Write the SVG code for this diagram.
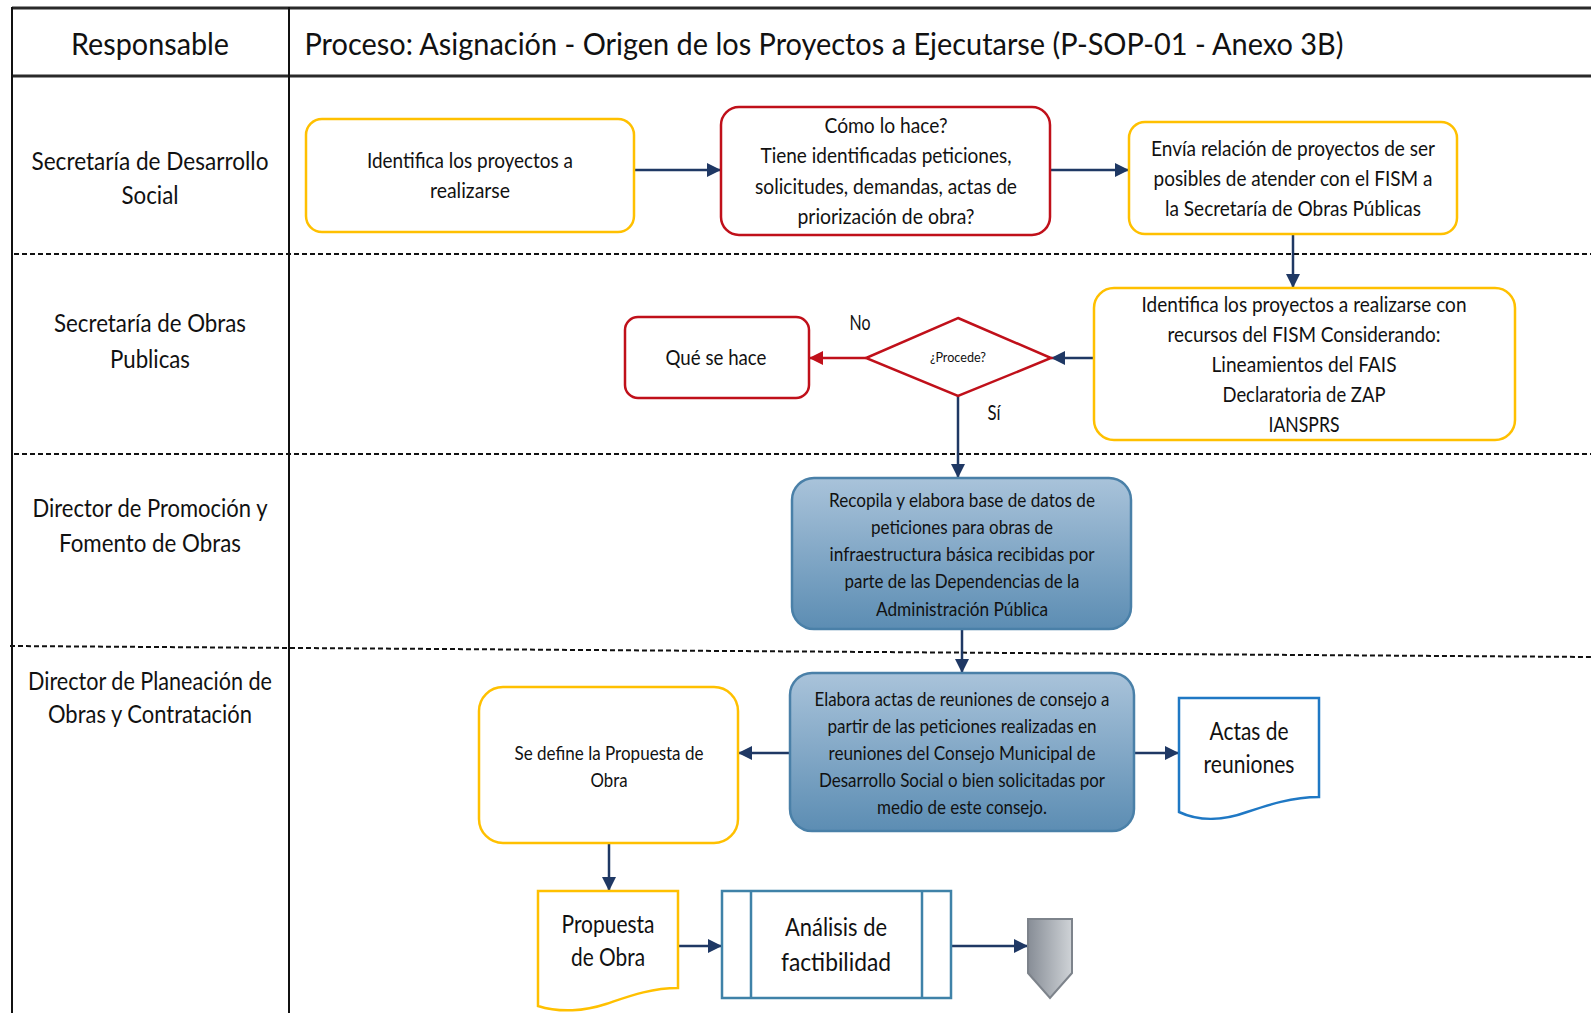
<svg xmlns="http://www.w3.org/2000/svg" width="1591" height="1013" viewBox="0 0 1591 1013">
  <style>
    text { font-family: "Lato", "Liberation Sans", sans-serif; fill: #111; text-anchor: middle; }
    .hdr { font-size: 31px; }
    .lane { font-size: 25px; }
    .t21 { font-size: 21px; }
    .t19 { font-size: 19px; }
    .t24 { font-size: 25px; }
    .small { font-size: 13px; }
    .frame { stroke: #111; stroke-width: 2; fill: none; }
    .hline { stroke: #2a2a2a; stroke-width: 3; fill: none; }
    .dash { stroke: #111; stroke-width: 2; stroke-dasharray: 5 3; fill: none; }
    .yel { fill: #fff; stroke: #FFC000; stroke-width: 2.5; }
    .red { fill: #fff; stroke: #C0101A; stroke-width: 2.5; }
    .blu { fill: url(#blueGrad); stroke: #4a80a8; stroke-width: 2.5; }
    .doc { fill: #fff; stroke: #1f78c4; stroke-width: 2.5; }
    .pre { fill: #fff; stroke: #3f82a8; stroke-width: 2.5; }
    .conn { stroke: #1f3864; stroke-width: 2.5; fill: none; marker-end: url(#arrowNavy); }
    .connRed { stroke: #C0101A; stroke-width: 2.5; fill: none; marker-end: url(#arrowRed); }
  </style>
  <defs>
    <linearGradient id="blueGrad" x1="0" y1="0" x2="0" y2="1">
      <stop offset="0" stop-color="#a9c3da"/>
      <stop offset="1" stop-color="#5c8db3"/>
    </linearGradient>
    <linearGradient id="grayGrad" x1="0" y1="0" x2="1" y2="0">
      <stop offset="0" stop-color="#878d96"/>
      <stop offset="1" stop-color="#cfd3d7"/>
    </linearGradient>
    <marker id="arrowNavy" viewBox="0 0 10 10" refX="10" refY="5" markerWidth="14" markerHeight="14" markerUnits="userSpaceOnUse" orient="auto">
      <path d="M0,0 L10,5 L0,10 z" fill="#1f3864"/>
    </marker>
    <marker id="arrowRed" viewBox="0 0 10 10" refX="10" refY="5" markerWidth="14" markerHeight="14" markerUnits="userSpaceOnUse" orient="auto">
      <path d="M0,0 L10,5 L0,10 z" fill="#C0101A"/>
    </marker>
  </defs>

  <rect width="1591" height="1013" fill="#fff"/>

  <!-- table frame -->
  <g id="frame">
    <line class="hline" x1="12" y1="8" x2="1591" y2="8"/>
    <line class="hline" x1="12" y1="76" x2="1591" y2="76"/>
    <line class="frame" x1="12" y1="7" x2="12" y2="1013"/>
    <line class="frame" x1="289" y1="7" x2="289" y2="1013"/>
    <line class="dash" x1="14" y1="254" x2="1591" y2="254"/>
    <line class="dash" x1="14" y1="454" x2="1591" y2="454"/>
    <line class="dash" x1="10" y1="646" x2="1591" y2="657"/>
    <text class="hdr" x="150" y="55" textLength="158" lengthAdjust="spacingAndGlyphs">Responsable</text>
    <text class="hdr" x="824" y="55" textLength="1039" lengthAdjust="spacingAndGlyphs">Proceso: Asignación - Origen de los Proyectos a Ejecutarse (P-SOP-01 - Anexo 3B)</text>
  </g>

  <!-- lane labels -->
  <g id="lane-labels">
    <text class="lane" x="150" y="170" textLength="237" lengthAdjust="spacingAndGlyphs">Secretaría de Desarrollo</text>
    <text class="lane" x="150" y="204" textLength="57" lengthAdjust="spacingAndGlyphs">Social</text>
    <text class="lane" x="150" y="332" textLength="192" lengthAdjust="spacingAndGlyphs">Secretaría de Obras</text>
    <text class="lane" x="150" y="368" textLength="80" lengthAdjust="spacingAndGlyphs">Publicas</text>
    <text class="lane" x="150" y="517" textLength="235" lengthAdjust="spacingAndGlyphs">Director de Promoción y</text>
    <text class="lane" x="150" y="552" textLength="182" lengthAdjust="spacingAndGlyphs">Fomento de Obras</text>
    <text class="lane" x="150" y="690" textLength="244" lengthAdjust="spacingAndGlyphs">Director de Planeación de</text>
    <text class="lane" x="150" y="723" textLength="204" lengthAdjust="spacingAndGlyphs">Obras y Contratación</text>
  </g>

  <!-- connectors -->
  <g id="connectors">
    <path class="conn" d="M634,170 H721"/>
    <path class="conn" d="M1050,170 H1129"/>
    <path class="conn" d="M1293,234 V288"/>
    <path class="conn" d="M1094,358 H1051"/>
    <path class="connRed" d="M866,358 H809"/>
    <path class="conn" d="M958,396 V478"/>
    <path class="conn" d="M962,629 V673"/>
    <path class="conn" d="M790,753 H738"/>
    <path class="conn" d="M1134,753 H1179"/>
    <path class="conn" d="M609,843 V891"/>
    <path class="conn" d="M678,946 H722"/>
    <path class="conn" d="M951,946 H1028"/>
    <text class="t21" x="860" y="330" textLength="21" lengthAdjust="spacingAndGlyphs">No</text>
    <text class="t21" x="994" y="420" textLength="13" lengthAdjust="spacingAndGlyphs">Sí</text>
  </g>

  <g id="identifica">
    <rect class="yel" x="306" y="119" width="328" height="113" rx="16"/>
    <text class="t21" x="470" y="168" textLength="206" lengthAdjust="spacingAndGlyphs">Identifica los proyectos a</text>
    <text class="t21" x="470" y="198" textLength="80" lengthAdjust="spacingAndGlyphs">realizarse</text>
  </g>

  <g id="como-lo-hace">
    <rect class="red" x="721" y="107" width="329" height="128" rx="18"/>
    <text class="t21" x="886" y="133" textLength="123" lengthAdjust="spacingAndGlyphs">Cómo lo hace?</text>
    <text class="t21" x="886" y="163" textLength="251" lengthAdjust="spacingAndGlyphs">Tiene identificadas peticiones,</text>
    <text class="t21" x="886" y="194" textLength="262" lengthAdjust="spacingAndGlyphs">solicitudes, demandas, actas de</text>
    <text class="t21" x="886" y="224" textLength="177" lengthAdjust="spacingAndGlyphs">priorización de obra?</text>
  </g>

  <g id="envia-relacion">
    <rect class="yel" x="1129" y="122" width="328" height="112" rx="16"/>
    <text class="t21" x="1293" y="156" textLength="284" lengthAdjust="spacingAndGlyphs">Envía relación de proyectos de ser</text>
    <text class="t21" x="1293" y="186" textLength="279" lengthAdjust="spacingAndGlyphs">posibles de atender con el FISM a</text>
    <text class="t21" x="1293" y="216" textLength="256" lengthAdjust="spacingAndGlyphs">la Secretaría de Obras Públicas</text>
  </g>

  <g id="identifica-fism">
    <rect class="yel" x="1094" y="288" width="421" height="152" rx="20"/>
    <text class="t21" x="1304" y="312" textLength="325" lengthAdjust="spacingAndGlyphs">Identifica los proyectos a realizarse con</text>
    <text class="t21" x="1304" y="342" textLength="273" lengthAdjust="spacingAndGlyphs">recursos del FISM Considerando:</text>
    <text class="t21" x="1304" y="372" textLength="185" lengthAdjust="spacingAndGlyphs">Lineamientos del FAIS</text>
    <text class="t21" x="1304" y="402" textLength="163" lengthAdjust="spacingAndGlyphs">Declaratoria de ZAP</text>
    <text class="t21" x="1304" y="432" textLength="71" lengthAdjust="spacingAndGlyphs">IANSPRS</text>
  </g>

  <g id="procede">
    <polygon class="red" points="958,318 1051,358 958,396 866,358"/>
    <text class="small" x="958" y="362" textLength="56" lengthAdjust="spacingAndGlyphs">¿Procede?</text>
  </g>

  <g id="que-se-hace">
    <rect class="red" x="625" y="317" width="184" height="81" rx="13"/>
    <text class="t21" x="716" y="365" textLength="101" lengthAdjust="spacingAndGlyphs">Qué se hace</text>
  </g>

  <g id="recopila">
    <rect class="blu" x="792" y="478" width="339" height="151" rx="22"/>
    <text class="t19" x="962" y="507" textLength="266" lengthAdjust="spacingAndGlyphs">Recopila y elabora base de datos de</text>
    <text class="t19" x="962" y="534" textLength="182" lengthAdjust="spacingAndGlyphs">peticiones para obras de</text>
    <text class="t19" x="962" y="561" textLength="265" lengthAdjust="spacingAndGlyphs">infraestructura básica recibidas por</text>
    <text class="t19" x="962" y="588" textLength="235" lengthAdjust="spacingAndGlyphs">parte de las Dependencias de la</text>
    <text class="t19" x="962" y="616" textLength="172" lengthAdjust="spacingAndGlyphs">Administración Pública</text>
  </g>

  <g id="elabora-actas">
    <rect class="blu" x="790" y="673" width="344" height="158" rx="22"/>
    <text class="t19" x="962" y="706" textLength="295" lengthAdjust="spacingAndGlyphs">Elabora actas de reuniones de consejo a</text>
    <text class="t19" x="962" y="733" textLength="269" lengthAdjust="spacingAndGlyphs">partir de las peticiones realizadas en</text>
    <text class="t19" x="962" y="760" textLength="267" lengthAdjust="spacingAndGlyphs">reuniones del Consejo Municipal de</text>
    <text class="t19" x="962" y="787" textLength="286" lengthAdjust="spacingAndGlyphs">Desarrollo Social o bien solicitadas por</text>
    <text class="t19" x="962" y="814" textLength="170" lengthAdjust="spacingAndGlyphs">medio de este consejo.</text>
  </g>

  <g id="actas-reuniones">
    <path class="doc" d="M1179,698 H1319 V797 C1292,797 1268,805 1247,812 C1225,820 1200,822 1179,812 Z"/>
    <text class="t24" x="1249" y="740" textLength="79" lengthAdjust="spacingAndGlyphs">Actas de</text>
    <text class="t24" x="1249" y="773" textLength="91" lengthAdjust="spacingAndGlyphs">reuniones</text>
  </g>

  <g id="define-propuesta">
    <rect class="yel" x="479" y="687" width="259" height="156" rx="24"/>
    <text class="t19" x="609" y="760" textLength="189" lengthAdjust="spacingAndGlyphs">Se define la Propuesta de</text>
    <text class="t19" x="609" y="787" textLength="37" lengthAdjust="spacingAndGlyphs">Obra</text>
  </g>

  <g id="propuesta-obra">
    <path class="yel" d="M538,891 H678 V988 C650,988 627,997 606,1004 C585,1011 560,1013 538,1006 Z"/>
    <text class="t24" x="608" y="933" textLength="93" lengthAdjust="spacingAndGlyphs">Propuesta</text>
    <text class="t24" x="608" y="966" textLength="74" lengthAdjust="spacingAndGlyphs">de Obra</text>
  </g>

  <g id="analisis-factibilidad">
    <rect class="pre" x="722" y="891" width="229" height="107"/>
    <line class="pre" x1="751" y1="891" x2="751" y2="998"/>
    <line class="pre" x1="922" y1="891" x2="922" y2="998"/>
    <text class="t24" x="836" y="936" textLength="102" lengthAdjust="spacingAndGlyphs">Análisis de</text>
    <text class="t24" x="836" y="971" textLength="110" lengthAdjust="spacingAndGlyphs">factibilidad</text>
  </g>

  <g id="off-page">
    <polygon points="1028,919 1072,919 1072,973 1050,998 1028,973" fill="url(#grayGrad)" stroke="#7d838b" stroke-width="2"/>
  </g>
</svg>
